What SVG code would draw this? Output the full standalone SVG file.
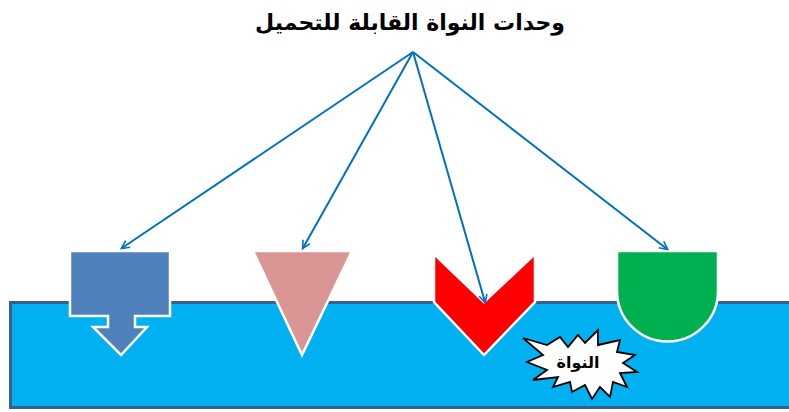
<svg xmlns="http://www.w3.org/2000/svg" width="789" height="412" viewBox="0 0 789 412">
<style>
.title{font-family:"DejaVu Sans",sans-serif;font-weight:bold;font-size:22px;fill:#000}
.lbl{font-family:"DejaVu Sans",sans-serif;font-weight:bold;font-size:16px;fill:#000}
.conn{stroke:#0070C0;stroke-width:2;fill:none;marker-end:url(#ah)}
.shape{stroke:#fff;stroke-width:2.5}
</style>
<defs>
<marker id="ah" viewBox="0 0 10 10" refX="9" refY="5" markerWidth="8" markerHeight="8" orient="auto" markerUnits="userSpaceOnUse" overflow="visible">
<path d="M0,0 L10,5 L0,10" fill="none" stroke="#0070C0" stroke-width="2"/>
</marker>
</defs>
<rect width="789" height="412" fill="#fff"/>
<g id="base">
<rect x="10.5" y="302.5" width="790" height="105" fill="#00B0F0" stroke="#3A5F8F" stroke-width="3"/>
</g>
<g id="title">
<text class="title" x="410" y="30" text-anchor="middle" direction="rtl">وحدات النواة القابلة للتحميل</text>
</g>
<g id="unit1">
<path class="shape" fill="#4F81BD" d="M70,251 H170 V316 H135 V327 H147 L121,355 L93,327 H108 V316 H70 Z"/>
</g>
<g id="unit2">
<path class="shape" fill="#D99694" d="M253,251 H352 L302,355 Z"/>
</g>
<g id="unit3">
<path class="shape" fill="#FF0000" d="M434,254 L484,302 L535,254 V302 L484,355 L434,302 Z"/>
</g>
<g id="unit4">
<path class="shape" fill="#00B050" d="M617,251 H718 V291 A50.5,50.5 0 0 1 617,291 Z"/>
</g>
<g id="nucleus">
<path fill="#fff" stroke="#000" stroke-width="1.8" stroke-linejoin="miter" d="M523,338 L547,345 L560,337 L568,347 L578,335 L585,343 L598,330 L598,345 L620,340 L617,352 L635,355 L623,363 L637,372 L620,373 L627,387 L613,382 L610,397 L600,387 L592,399 L585,385 L572,392 L570,382 L553,387 L558,377 L533,380 L547,370 L527,362 L543,355 Z"/>
<text class="lbl" x="578" y="368" text-anchor="middle" direction="rtl">النواة</text>
</g>
<g id="connectors">
<line class="conn" x1="413" y1="52" x2="122" y2="248"/>
<line class="conn" x1="413" y1="52" x2="303" y2="248"/>
<line class="conn" x1="413" y1="52" x2="485" y2="302"/>
<line class="conn" x1="413" y1="52" x2="667" y2="249"/>
</g>
</svg>
